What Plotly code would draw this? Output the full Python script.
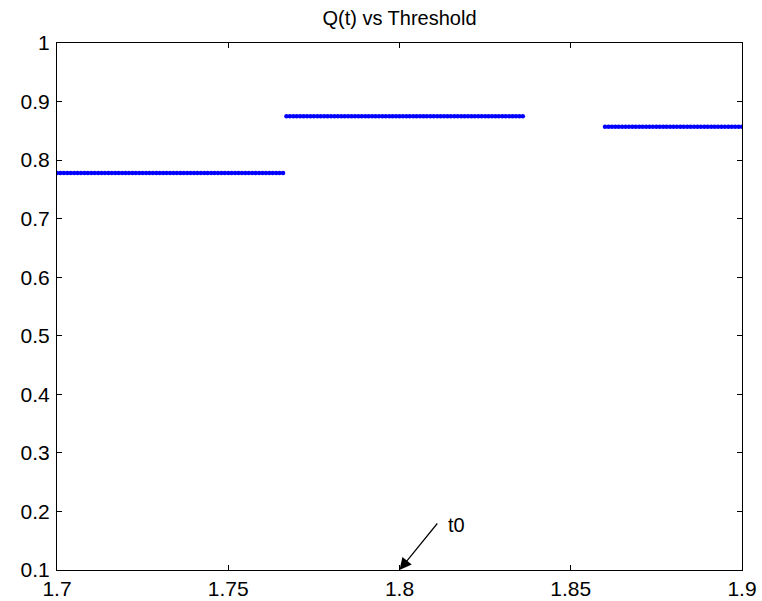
import numpy as np
import plotly.graph_objects as go

# Piecewise-constant Q(t)
seg_start = [1.700, 1.767, 1.860]
seg_end = [1.766, 1.836, 1.900]
seg_value = [0.7778, 0.8750, 0.8571]
threshold_step = 0.001

x_ticks = [1.7, 1.75, 1.8, 1.85, 1.9]
x_tick_labels = ["1.7", "1.75", "1.8", "1.85", "1.9"]
y_ticks = [0.1, 0.2, 0.3, 0.4, 0.5, 0.6, 0.7, 0.8, 0.9, 1.0]
y_tick_labels = ["0.1", "0.2", "0.3", "0.4", "0.5", "0.6", "0.7", "0.8", "0.9", "1"]

xs, ys = [], []
for s, e, v in zip(seg_start, seg_end, seg_value):
    n = int(round((e - s) / threshold_step)) + 1
    t = np.round(s + threshold_step * np.arange(n), 4)
    xs.extend(t.tolist())
    ys.extend([v] * n)

fig = go.Figure()
fig.add_trace(go.Scatter(x=xs, y=ys, mode="markers",
                         marker=dict(color="#0000ff", size=4.5, line=dict(width=0)),
                         showlegend=False, hoverinfo="x+y"))

font_family = "Liberation Sans, Arial, sans-serif"
axis_common = dict(showgrid=False, zeroline=False, showline=True, linecolor="black",
                   linewidth=1, mirror="ticks", ticks="inside", ticklen=5, automargin=False,
                   tickcolor="black", tickfont=dict(family=font_family, size=21, color="black"))

W, H = 762, 601
fig.update_layout(
    width=W, height=H,
    margin=dict(l=57, r=20, t=43, b=31, autoexpand=False),
    paper_bgcolor="white", plot_bgcolor="white",
    title=dict(text="Q(t) vs Threshold", x=0.5, xref="paper", y=1 - 18 / H, yanchor="middle",
               font=dict(family=font_family, size=20, color="black")),
    xaxis=dict(range=[1.7, 1.9], tickvals=x_ticks, ticktext=x_tick_labels, **axis_common),
    yaxis=dict(range=[0.1, 1.0], tickvals=y_ticks, ticktext=y_tick_labels,
               ticklabelstandoff=2, **axis_common),
)

fig.add_annotation(x=1.8, y=0.1, xref="x", yref="y", text="", showarrow=True,
                   arrowhead=2, arrowsize=2, arrowwidth=1.2, arrowcolor="black",
                   ax=39, ay=-48)
fig.add_annotation(x=1.8, y=0.1, xref="x", yref="y", text="t0", showarrow=False,
                   xshift=57, yshift=45, font=dict(family=font_family, size=20, color="black"))

fig.write_html("out.html", config={"displayModeBar": False},
               post_script="document.body.style.margin='0';document.body.style.overflow='hidden';")
